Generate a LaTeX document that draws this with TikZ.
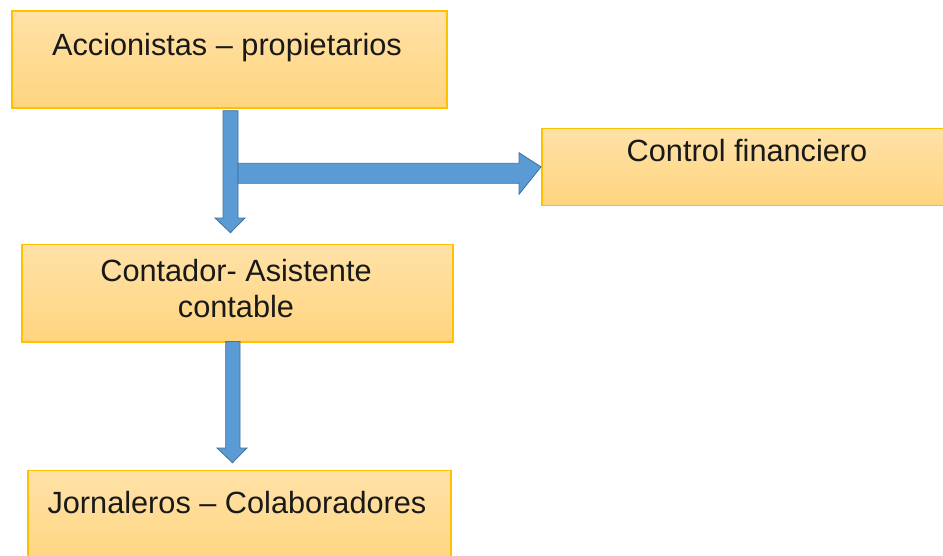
\documentclass[tikz,border=0pt]{standalone}
\usepackage{fontspec}
\setmainfont{Liberation Sans}
\definecolor{boxtop}{HTML}{FFE2A8}
\definecolor{boxbot}{HTML}{FFD47E}
\definecolor{boxline}{HTML}{FFC000}
\definecolor{arrfill}{HTML}{5B9BD5}
\definecolor{arrline}{HTML}{41719C}
\tikzset{
  box/.style={rectangle, draw=boxline, line width=1.6pt, top color=boxtop, bottom color=boxbot, inner sep=0pt, anchor=north west},
  lbl/.style={anchor=base, inner sep=0pt, font=\fontsize{30.7}{36.7}\selectfont, text=black!90},
  fat/.style={fill=arrfill, draw=arrline, line width=0.8pt, line join=miter}
}
\begin{document}
\begin{tikzpicture}[x=1pt,y=-1pt]
\useasboundingbox (0,0) rectangle (943,555);
\node[box, minimum width=435pt, minimum height=97pt] (acc) at (11,10) {};
\node[box, minimum width=410pt, minimum height=77pt] (ctrl) at (541,127.5) {};
\node[box, minimum width=431pt, minimum height=97.5pt] (cont) at (21,243.5) {};
\node[box, minimum width=423pt, minimum height=100pt] (jorn) at (27,469.5) {};
\node[lbl] (acct) at (227,55) {Accionistas – propietarios};
\node[lbl] (ctrlt) at (747,161) {Control financiero};
\node[lbl] (contt1) at (236,281) {Contador- Asistente};
\node[lbl] (contt2) at (236,317.7) {contable};
\node[lbl] (jornt) at (237,513.3) {Jornaleros – Colaboradores};
% vertical arrow 1
\coordinate (v1top) at (230.5,110.7);
\coordinate (v1tip) at (230.5,232.7);
\draw[fat] ([xshift=-7.5pt]v1top) -- ([xshift=7.5pt]v1top) -- (238,218) -- (245,218) -- (v1tip) -- (215,218) -- (223,218) -- cycle;
% horizontal arrow
\coordinate (htip) at (ctrl.west);
\draw[fat] (238,163.3) -- (519,163.3) -- (519,152.7) -- (htip) -- (519,194.3) -- (519,183.3) -- (238,183.3) -- cycle;
% vertical arrow 2
\coordinate (v2top) at (232.85,341.5);
\coordinate (v2tip) at (232.5,462.7);
\draw[fat] ([xshift=-7.15pt]v2top) -- ([xshift=7.15pt]v2top) -- (240,448) -- (247,448) -- (v2tip) -- (217,448) -- (225.7,448) -- cycle;
\end{tikzpicture}
\end{document}
